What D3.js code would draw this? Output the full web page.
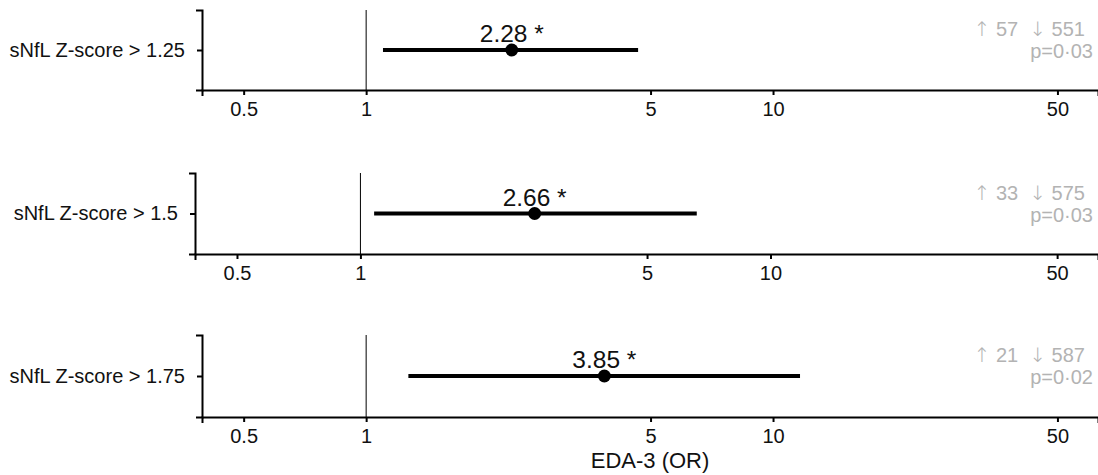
<!DOCTYPE html>
<html>
<head>
<meta charset="utf-8">
<script src="https://cdn.jsdelivr.net/npm/d3@7"></script>
<style>
  body { margin: 0; background: #fff; }
  svg { display: block; font-family: "Liberation Sans", Arial, sans-serif; }
</style>
</head>
<body>
<div id="chart"></div>
<script>
// data
const categories = ["sNfL Z-score > 1.25", "sNfL Z-score > 1.5", "sNfL Z-score > 1.75"];
const oddsRatios = [2.28, 2.66, 3.85];
const ciLow = [1.1, 1.08, 1.27];
const ciHigh = [4.66, 6.61, 11.65];
const nUp = [57, 33, 21];
const nDown = [551, 575, 587];
const pValues = ["0·03", "0·03", "0·02"];
const xTicks = [0.5, 1, 5, 10, 50];
const xDomain = [0.395, 62.9];

const svgWidth = 1098;
const svgHeight = 475;

// panel frames (left edge differs a little because of the label widths)
const panels = [
  { left: 202, top: 10, bottom: 90 },
  { left: 195, top: 173, bottom: 254 },
  { left: 202, top: 335, bottom: 417 }
];
const panelRight = 1098;
const grey = "#b3b3b3";

const svg = d3.select("#chart")
  .append("svg")
  .attr("width", svgWidth)
  .attr("height", svgHeight);

const drawPanel = (p, i) => {
  const g = svg.append("g");

  const xScale = d3.scaleLog()
    .domain(xDomain)
    .range([p.left, panelRight]);

  const yScale = d3.scalePoint()
    .domain([categories[i]])
    .range([p.top, p.bottom])
    .padding(0.5);

  const cy = yScale(categories[i]);

  // reference line at OR = 1
  g.append("line")
    .attr("x1", xScale(1))
    .attr("x2", xScale(1))
    .attr("y1", p.top)
    .attr("y2", p.bottom)
    .attr("stroke", "#000")
    .attr("stroke-width", 1);

  // confidence interval
  g.append("line")
    .attr("x1", xScale(ciLow[i]))
    .attr("x2", xScale(ciHigh[i]))
    .attr("y1", cy)
    .attr("y2", cy)
    .attr("stroke", "#000")
    .attr("stroke-width", 4);

  g.append("circle")
    .attr("cx", xScale(oddsRatios[i]))
    .attr("cy", cy)
    .attr("r", 6.5)
    .attr("fill", "#000");

  g.append("text")
    .attr("x", xScale(oddsRatios[i]))
    .attr("y", cy - 8)
    .attr("text-anchor", "middle")
    .attr("font-size", 24.5)
    .attr("fill", "#111")
    .text(oddsRatios[i].toFixed(2) + " *");

  // counts and p value on the right
  const counts = g.append("text")
    .attr("x", 1085)
    .attr("y", cy - 14)
    .attr("text-anchor", "end")
    .attr("font-size", 20)
    .attr("fill", grey);
  const parts = [["↑", true], [" " + nUp[i] + "  ", false], ["↓", true], [" " + nDown[i], false]];
  parts.forEach(([t, arrow]) => {
    counts.append("tspan")
      .attr("font-family", arrow ? "DejaVu Sans" : "Liberation Sans, Arial, sans-serif")
      .attr("font-weight", arrow ? 200 : 400)
      .style("white-space", "pre")
      .text(t);
  });

  g.append("text")
    .attr("x", 1093)
    .attr("y", cy + 8)
    .attr("text-anchor", "end")
    .attr("font-size", 20)
    .attr("fill", grey)
    .text("p=" + pValues[i]);

  // axes
  const xAxis = d3.axisBottom(xScale)
    .tickValues(xTicks)
    .tickFormat(d3.format(""))
    .tickSizeOuter(0)
    .tickSize(5)
    .tickPadding(7);

  const xg = g.append("g")
    .attr("transform", `translate(0,${p.bottom})`)
    .call(xAxis);

  const yAxis = d3.axisLeft(yScale)
    .tickSizeOuter(0)
    .tickSize(5)
    .tickPadding(12);

  const yg = g.append("g")
    .attr("transform", `translate(${p.left},0)`)
    .call(yAxis);

  [xg, yg].forEach(a => {
    a.select(".domain").attr("stroke-width", 2).attr("stroke-linecap", "square");
    a.selectAll(".tick line").attr("stroke-width", 2);
    a.selectAll(".tick text")
      .attr("fill", "#111")
      .attr("font-size", 20)
      .attr("font-family", "Liberation Sans, Arial, sans-serif");
  });
};

panels.forEach(drawPanel);

svg.append("text")
  .attr("x", (panels[2].left + panelRight) / 2)
  .attr("y", 468)
  .attr("text-anchor", "middle")
  .attr("font-size", 22)
  .attr("fill", "#111")
  .text("EDA-3 (OR)");
</script>
</body>
</html>
